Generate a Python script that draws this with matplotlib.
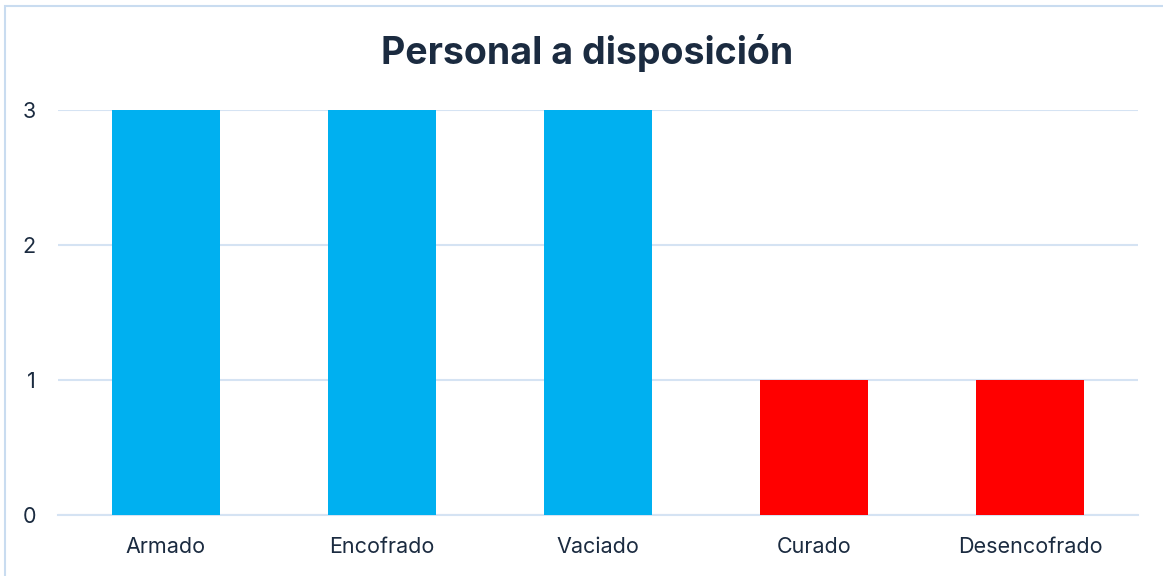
import matplotlib.pyplot as plt
from matplotlib.patches import Rectangle

# --- Data ---
categories = ["Armado", "Encofrado", "Vaciado", "Curado", "Desencofrado"]
personal = [3, 3, 3, 1, 1]
bar_colors = ["#00B0F0", "#00B0F0", "#00B0F0", "#FF0000", "#FF0000"]
y_ticks = [0, 1, 2, 3]

text_color = "#1b2b40"
grid_color = "#d5e3f3"

plt.rcParams["font.family"] = ["Inter", "DejaVu Sans"]

fig = plt.figure(figsize=(11.63, 5.76), dpi=100)
ax = fig.add_axes([58 / 1163, 1 - 515 / 576, 1080 / 1163, 405 / 576])

x = range(len(categories))
ax.bar(x, personal, width=0.5, color=bar_colors, zorder=3)

ax.set_xlim(-0.5, len(categories) - 0.5)
ax.set_ylim(0, 3)
ax.set_yticks(y_ticks)
ax.set_xticks(list(x))
ax.set_xticklabels(categories)
ax.tick_params(axis="both", length=0, colors=text_color, labelsize=15.5)
ax.tick_params(axis="x", pad=16)
ax.tick_params(axis="y", pad=16)

ax.grid(axis="y", color=grid_color, linewidth=1.5, zorder=0)
for side in ["top", "right", "left"]:
    ax.spines[side].set_visible(False)
ax.spines["bottom"].set_color(grid_color)
ax.spines["bottom"].set_linewidth(1.5)

fig.text(0.505, 1 - 53 / 576, "Personal a disposición", ha="center", va="center",
         fontsize=27, fontweight="bold", color=text_color)

# light border around the chart area
fig.patches.append(Rectangle((4.5 / 1163, -0.05), 1.1, 1 - 5.5 / 576 + 0.05,
                             transform=fig.transFigure, fill=False,
                             edgecolor="#c9dcf0", linewidth=1.5))

fig.savefig("out.png", dpi=100)
